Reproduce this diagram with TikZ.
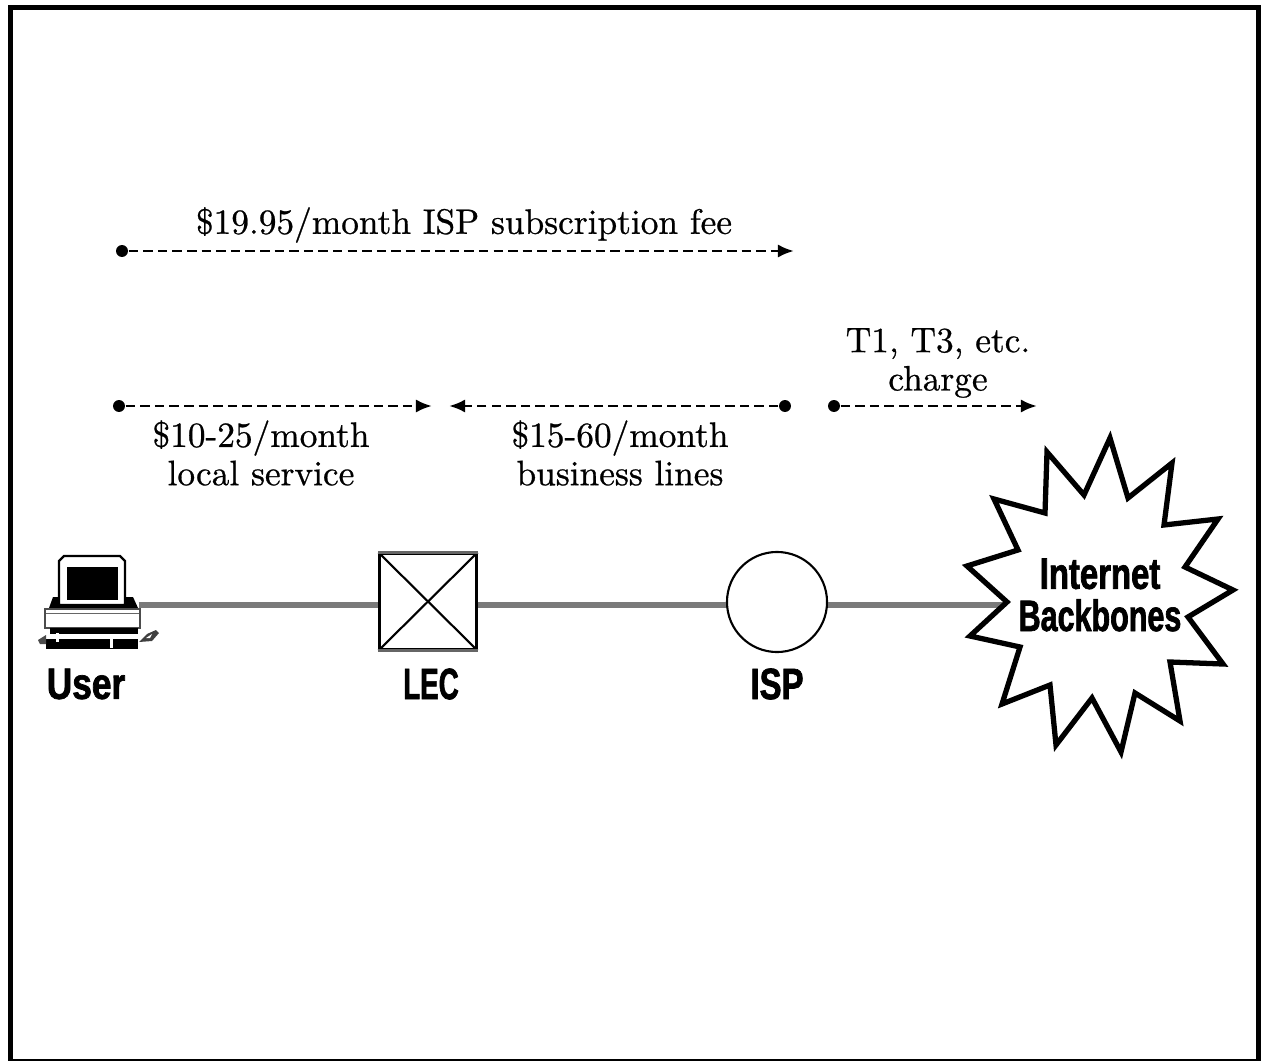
\documentclass[tikz,border=0pt]{standalone}
\usepackage{fontspec}
\usepackage{tikz}
\usetikzlibrary{arrows.meta}
\setmainfont{Latin Modern Roman}[FakeBold=0.7]
\newfontfamily\heavyfont[FakeStretch=0.68,FakeBold=1.5]{Liberation Sans Bold}

\tikzset{
  fee/.style={font=\fontsize{10.05}{10.3}\selectfont, align=center, inner sep=0pt},
  heavy/.style={font=\fontsize{12.5}{12}\heavyfont, align=center, inner sep=0pt},
  charge/.style={line width=0.8pt, dash pattern=on 2.7pt off 1.45pt, -{Latex[length=4.6pt,width=3.8pt]}},
  dot/.style={circle, fill=black, inner sep=0pt, minimum size=3.4pt},
  trunk/.style={line width=1.7pt, draw=black!52},
  thinline/.style={line width=0.6pt}
}

\begin{document}
\begin{tikzpicture}[x=0.01cm,y=-0.01cm]
\useasboundingbox (0,0) rectangle (1261,1061);
% frame
\draw [line width=1.4pt] (10.5,7.5) -- (1258.5,7.5) -- (1258.5,1061.5) -- (10.5,1061.5) -- cycle;
% charges
\node [dot] (feeA) at (122,251) {};
\coordinate (feeAend) at (794,251);
\draw [charge] (feeA) -- (feeAend);
\node [fee] (feeAtxt) at (464,225) {\$19.95/month ISP subscription fee};
\node [dot] (localA) at (119,406) {};
\coordinate (localAend) at (432,406);
\draw [charge] (localA) -- (localAend);
\node [fee] (localtxt) at (261,453) {\$10-25/month\\[0.6pt]local service};
\node [dot] (bizA) at (785,406) {};
\coordinate (bizAend) at (449,406);
\draw [charge] (bizA) -- (bizAend);
\node [fee] (biztxt) at (620,453) {\$15-60/month\\[0.6pt]business lines};
\node [dot] (tA) at (834,406) {};
\coordinate (tAend) at (1037,406);
\draw [charge] (tA) -- (tAend);
\node [fee] (ttxt) at (938,363) {T1, T3, etc.\\[0.6pt]charge};
% boxes
\node [draw, thinline, minimum width=0.97cm, minimum height=0.96cm, inner sep=0pt] (lec) at (428,601.5) {};
\draw [thinline] (lec.north west) -- (lec.south east);
\draw [thinline] (lec.south west) -- (lec.north east);
\draw [line width=1pt, black!60] (lec.north west) -- (lec.north east);
\draw [line width=1pt, black!60] (lec.south west) -- (lec.south east);
\node [draw, circle, thinline, minimum size=1cm, inner sep=0pt] (isp) at (777,602) {};
% computer
\node [inner sep=0pt, minimum width=0.92cm, minimum height=0.2cm] (user) at (92,605) {};
\fill (49,608) -- (53,597) -- (133,597) -- (138,608) -- cycle;
\draw [fill=white, line width=0.7pt] (59,605) -- (59,561) -- (64,556) -- (120,556) -- (125,561) -- (125,605) -- cycle;
\fill (67,567) rectangle (118,600);
\draw [fill=white, line width=0.4pt, draw=black!70] (45,609) rectangle (140,628);
\draw [line width=0.5pt, black!60] (46,613.5) -- (139,613.5);
\fill (50,628) rectangle (138,634);
\fill (46,639) rectangle (138,649);
\fill [black!70] (38,640) -- (46,635) -- (46,644) -- (40,644) -- cycle;
\fill [white] (56,633) rectangle (59,642);
\fill [white] (110,635) rectangle (113,648);
\fill [black!75] (139,642) -- (147,634) -- (156,630) -- (159,633) -- (152,641) -- cycle;
\fill [white] (146,638) -- (152,634) -- (150,638) -- cycle;
% trunk
\coordinate (rail) at (0,605);
\coordinate (netedge) at (1003,605);
\draw [trunk] (user.east |- rail) -- (lec.west |- rail);
\draw [trunk] (lec.east |- rail) -- (isp.west |- rail);
\draw [trunk] (isp.east |- rail) -- (netedge);
% backbones
\draw [fill=white, line width=1.5pt, line join=miter, miter limit=10]
  (1110,438) -- (1128,498) -- (1172,463) -- (1164,525) -- (1218,519) -- (1185,567) -- (1233,590)
  -- (1188,617) -- (1223,664) -- (1170,662) -- (1180,721) -- (1135,693) -- (1121,752) -- (1092,698)
  -- (1056,745) -- (1050,685) -- (1002,704) -- (1020,647) -- (970,636) -- (1007,602) -- (967,566)
  -- (1018,550) -- (994,499) -- (1045,513) -- (1047,452) -- (1084,495) -- cycle;
\node [heavy] (net) at (1100,595) {\scalebox{1.1}[1]{Internet}\\[0pt]\scalebox{1.02}[1]{Backbones}};
% names
\node [heavy] (usertxt) at (86,684) {\scalebox{1.18}[1]{User}};
\node [heavy] (lectxt) at (431,684) {\scalebox{0.93}[1]{LEC}};
\node [heavy] (isptxt) at (777,684) {\scalebox{1.1}[1]{ISP}};
\end{tikzpicture}
\end{document}
